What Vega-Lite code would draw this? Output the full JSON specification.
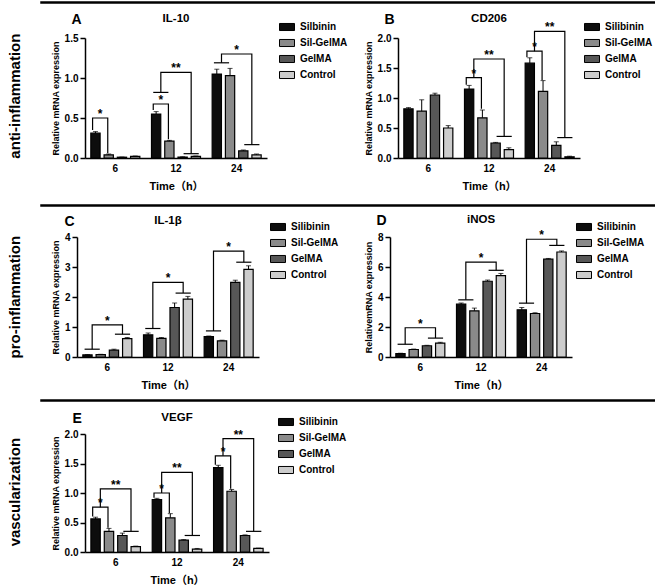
{
  "$schema": "https://vega.github.io/schema/vega-lite/v6.json",
  "padding": {"left": 8, "top": 1, "right": 0, "bottom": 0},
  "config": {
    "font": "Liberation Sans, Noto Sans CJK SC, sans-serif",
    "view": {"stroke": null},
    "axis": {"labelFontWeight": "bold", "titleFontWeight": "bold", "labelColor": "#000", "titleColor": "#000", "domainColor": "#000", "tickColor": "#000", "grid": false, "labelFontSize": 10, "titleFontSize": 9, "labelOverlap": false},
    "axisX": {"ticks": false, "labelAngle": 0, "labelPadding": 5, "titleFontSize": 11, "titlePadding": 7, "domainWidth": 1.5},
    "axisY": {"tickSize": 5, "domainWidth": 1.5, "tickWidth": 1.5, "titlePadding": 4, "labelPadding": 2},
    "legend": {"labelFontWeight": "bold", "labelFontSize": 10, "labelColor": "#000", "symbolType": "M-1,-0.47H1V0.47H-1Z", "symbolSize": 225, "symbolStrokeColor": "#000", "symbolStrokeWidth": 1, "rowPadding": 2, "labelOffset": 5},
    "title": {"fontWeight": "bold", "fontSize": 11.5, "color": "#000"}
  },
  "spacing": 13,
  "resolve": {"scale": {"fill": "independent"}, "legend": {"fill": "independent"}},
  "datasets": {
    "barsA": [
      {"time": "6", "group": "Silibinin", "value": 0.31, "hi": 0.33},
      {"time": "6", "group": "Sil-GelMA", "value": 0.04, "hi": 0.05},
      {"time": "6", "group": "GelMA", "value": 0.01, "hi": 0.012},
      {"time": "6", "group": "Control", "value": 0.02, "hi": 0.025},
      {"time": "12", "group": "Silibinin", "value": 0.55, "hi": 0.58},
      {"time": "12", "group": "Sil-GelMA", "value": 0.21, "hi": 0.22},
      {"time": "12", "group": "GelMA", "value": 0.01, "hi": 0.015},
      {"time": "12", "group": "Control", "value": 0.02, "hi": 0.025},
      {"time": "24", "group": "Silibinin", "value": 1.05, "hi": 1.11},
      {"time": "24", "group": "Sil-GelMA", "value": 1.03, "hi": 1.12},
      {"time": "24", "group": "GelMA", "value": 0.09, "hi": 0.1},
      {"time": "24", "group": "Control", "value": 0.04, "hi": 0.05}
    ],
    "brA": [
      {"id": "b1", "k": 1, "time": "6", "at": "Silibinin", "y": 0.35},
      {"id": "b1", "k": 2, "time": "6", "at": "Silibinin", "y": 0.5},
      {"id": "b1", "k": 3, "time": "6", "at": "Sil-GelMA", "y": 0.5},
      {"id": "b1", "k": 4, "time": "6", "at": "Sil-GelMA", "y": 0.06},
      {"id": "b2", "k": 1, "time": "12", "at": "Silibinin", "y": 0.6},
      {"id": "b2", "k": 2, "time": "12", "at": "Silibinin", "y": 0.675},
      {"id": "b2", "k": 3, "time": "12", "at": "Sil-GelMA", "y": 0.675},
      {"id": "b2", "k": 4, "time": "12", "at": "Sil-GelMA", "y": 0.235},
      {"id": "p1", "k": 1, "time": "12", "at": "Silibinin", "y": 0.82},
      {"id": "p1", "k": 2, "time": "12", "at": "Sil-GelMA", "y": 0.82},
      {"id": "b3", "k": 1, "time": "12", "at": "m1", "y": 0.82},
      {"id": "b3", "k": 2, "time": "12", "at": "m1", "y": 1.07},
      {"id": "b3", "k": 3, "time": "12", "at": "m3", "y": 1.07},
      {"id": "b3", "k": 4, "time": "12", "at": "m3", "y": 0.054},
      {"id": "p2", "k": 1, "time": "12", "at": "GelMA", "y": 0.054},
      {"id": "p2", "k": 2, "time": "12", "at": "Control", "y": 0.054},
      {"id": "p3", "k": 1, "time": "24", "at": "Silibinin", "y": 1.19},
      {"id": "p3", "k": 2, "time": "24", "at": "Sil-GelMA", "y": 1.19},
      {"id": "b4", "k": 1, "time": "24", "at": "m1", "y": 1.19},
      {"id": "b4", "k": 2, "time": "24", "at": "m1", "y": 1.3},
      {"id": "b4", "k": 3, "time": "24", "at": "m3", "y": 1.3},
      {"id": "b4", "k": 4, "time": "24", "at": "m3", "y": 0.167},
      {"id": "p4", "k": 1, "time": "24", "at": "GelMA", "y": 0.167},
      {"id": "p4", "k": 2, "time": "24", "at": "Control", "y": 0.167}
    ],
    "stA": [
      {"time": "6", "at": "m1", "y": 0.5, "s": "*"},
      {"time": "12", "at": "m1", "y": 0.675, "s": "*"},
      {"time": "12", "at": "m2", "y": 1.07, "s": "**"},
      {"time": "24", "at": "m2", "y": 1.3, "s": "*"}
    ],
    "barsB": [
      {"time": "6", "group": "Silibinin", "value": 0.82, "hi": 0.84},
      {"time": "6", "group": "Sil-GelMA", "value": 0.78, "hi": 0.97},
      {"time": "6", "group": "GelMA", "value": 1.05, "hi": 1.08},
      {"time": "6", "group": "Control", "value": 0.5, "hi": 0.54},
      {"time": "12", "group": "Silibinin", "value": 1.15, "hi": 1.21},
      {"time": "12", "group": "Sil-GelMA", "value": 0.67, "hi": 0.8},
      {"time": "12", "group": "GelMA", "value": 0.25, "hi": 0.26},
      {"time": "12", "group": "Control", "value": 0.14, "hi": 0.17},
      {"time": "24", "group": "Silibinin", "value": 1.58, "hi": 1.67},
      {"time": "24", "group": "Sil-GelMA", "value": 1.11, "hi": 1.29},
      {"time": "24", "group": "GelMA", "value": 0.21, "hi": 0.27},
      {"time": "24", "group": "Control", "value": 0.02, "hi": 0.03}
    ],
    "brB": [
      {"id": "b1", "k": 1, "time": "12", "at": "Silibinin", "y": 1.22},
      {"id": "b1", "k": 2, "time": "12", "at": "Silibinin", "y": 1.34},
      {"id": "b1", "k": 3, "time": "12", "at": "Sil-GelMA", "y": 1.34},
      {"id": "b1", "k": 4, "time": "12", "at": "Sil-GelMA", "y": 0.82},
      {"id": "b2", "k": 1, "time": "12", "at": "m1", "y": 1.34},
      {"id": "b2", "k": 2, "time": "12", "at": "m1", "y": 1.65},
      {"id": "b2", "k": 3, "time": "12", "at": "m3", "y": 1.65},
      {"id": "b2", "k": 4, "time": "12", "at": "m3", "y": 0.36},
      {"id": "p1", "k": 1, "time": "12", "at": "GelMA", "y": 0.36},
      {"id": "p1", "k": 2, "time": "12", "at": "Control", "y": 0.36},
      {"id": "b3", "k": 1, "time": "24", "at": "Silibinin", "y": 1.68},
      {"id": "b3", "k": 2, "time": "24", "at": "Silibinin", "y": 1.78},
      {"id": "b3", "k": 3, "time": "24", "at": "Sil-GelMA", "y": 1.78},
      {"id": "b3", "k": 4, "time": "24", "at": "Sil-GelMA", "y": 1.3},
      {"id": "b4", "k": 1, "time": "24", "at": "m1", "y": 1.78},
      {"id": "b4", "k": 2, "time": "24", "at": "m1", "y": 2.11},
      {"id": "b4", "k": 3, "time": "24", "at": "m3", "y": 2.11},
      {"id": "b4", "k": 4, "time": "24", "at": "m3", "y": 0.34},
      {"id": "p2", "k": 1, "time": "24", "at": "GelMA", "y": 0.34},
      {"id": "p2", "k": 2, "time": "24", "at": "Control", "y": 0.34}
    ],
    "stB": [
      {"time": "12", "at": "m1", "y": 1.34, "s": "*"},
      {"time": "12", "at": "m2", "y": 1.65, "s": "**"},
      {"time": "24", "at": "m1", "y": 1.78, "s": "*"},
      {"time": "24", "at": "m2", "y": 2.11, "s": "**"}
    ],
    "barsC": [
      {"time": "6", "group": "Silibinin", "value": 0.07, "hi": 0.08},
      {"time": "6", "group": "Sil-GelMA", "value": 0.08, "hi": 0.09},
      {"time": "6", "group": "GelMA", "value": 0.23, "hi": 0.26},
      {"time": "6", "group": "Control", "value": 0.61, "hi": 0.65},
      {"time": "12", "group": "Silibinin", "value": 0.74, "hi": 0.8},
      {"time": "12", "group": "Sil-GelMA", "value": 0.62, "hi": 0.65},
      {"time": "12", "group": "GelMA", "value": 1.65, "hi": 1.8},
      {"time": "12", "group": "Control", "value": 1.93, "hi": 2.02},
      {"time": "24", "group": "Silibinin", "value": 0.68, "hi": 0.7},
      {"time": "24", "group": "Sil-GelMA", "value": 0.54, "hi": 0.56},
      {"time": "24", "group": "GelMA", "value": 2.49, "hi": 2.56},
      {"time": "24", "group": "Control", "value": 2.92, "hi": 3.04}
    ],
    "brC": [
      {"id": "l6", "k": 1, "time": "6", "at": "Silibinin", "y": 0.26},
      {"id": "l6", "k": 2, "time": "6", "at": "Sil-GelMA", "y": 0.26},
      {"id": "h6", "k": 1, "time": "6", "at": "GelMA", "y": 0.76},
      {"id": "h6", "k": 2, "time": "6", "at": "Control", "y": 0.76},
      {"id": "b6", "k": 1, "time": "6", "at": "m1", "y": 0.26},
      {"id": "b6", "k": 2, "time": "6", "at": "m1", "y": 1.07},
      {"id": "b6", "k": 3, "time": "6", "at": "m3", "y": 1.07},
      {"id": "b6", "k": 4, "time": "6", "at": "m3", "y": 0.76},
      {"id": "l12", "k": 1, "time": "12", "at": "Silibinin", "y": 0.95},
      {"id": "l12", "k": 2, "time": "12", "at": "Sil-GelMA", "y": 0.95},
      {"id": "h12", "k": 1, "time": "12", "at": "GelMA", "y": 2.13},
      {"id": "h12", "k": 2, "time": "12", "at": "Control", "y": 2.13},
      {"id": "b12", "k": 1, "time": "12", "at": "m1", "y": 0.95},
      {"id": "b12", "k": 2, "time": "12", "at": "m1", "y": 2.49},
      {"id": "b12", "k": 3, "time": "12", "at": "m3", "y": 2.49},
      {"id": "b12", "k": 4, "time": "12", "at": "m3", "y": 2.13},
      {"id": "l24", "k": 1, "time": "24", "at": "Silibinin", "y": 0.87},
      {"id": "l24", "k": 2, "time": "24", "at": "Sil-GelMA", "y": 0.87},
      {"id": "h24", "k": 1, "time": "24", "at": "GelMA", "y": 3.16},
      {"id": "h24", "k": 2, "time": "24", "at": "Control", "y": 3.16},
      {"id": "b24", "k": 1, "time": "24", "at": "m1", "y": 0.87},
      {"id": "b24", "k": 2, "time": "24", "at": "m1", "y": 3.53},
      {"id": "b24", "k": 3, "time": "24", "at": "m3", "y": 3.53},
      {"id": "b24", "k": 4, "time": "24", "at": "m3", "y": 3.16}
    ],
    "stC": [
      {"time": "6", "at": "m2", "y": 1.07, "s": "*"},
      {"time": "12", "at": "m2", "y": 2.49, "s": "*"},
      {"time": "24", "at": "m2", "y": 3.53, "s": "*"}
    ],
    "barsD": [
      {"time": "6", "group": "Silibinin", "value": 0.22, "hi": 0.25},
      {"time": "6", "group": "Sil-GelMA", "value": 0.5, "hi": 0.53},
      {"time": "6", "group": "GelMA", "value": 0.75, "hi": 0.78},
      {"time": "6", "group": "Control", "value": 0.93, "hi": 0.98},
      {"time": "12", "group": "Silibinin", "value": 3.52, "hi": 3.6},
      {"time": "12", "group": "Sil-GelMA", "value": 3.08, "hi": 3.26},
      {"time": "12", "group": "GelMA", "value": 5.05, "hi": 5.13},
      {"time": "12", "group": "Control", "value": 5.42, "hi": 5.57},
      {"time": "24", "group": "Silibinin", "value": 3.15, "hi": 3.3},
      {"time": "24", "group": "Sil-GelMA", "value": 2.9, "hi": 2.95},
      {"time": "24", "group": "GelMA", "value": 6.52, "hi": 6.57},
      {"time": "24", "group": "Control", "value": 7.0, "hi": 7.07}
    ],
    "brD": [
      {"id": "l6", "k": 1, "time": "6", "at": "Silibinin", "y": 0.85},
      {"id": "l6", "k": 2, "time": "6", "at": "Sil-GelMA", "y": 0.85},
      {"id": "h6", "k": 1, "time": "6", "at": "GelMA", "y": 1.26},
      {"id": "h6", "k": 2, "time": "6", "at": "Control", "y": 1.26},
      {"id": "b6", "k": 1, "time": "6", "at": "m1", "y": 0.85},
      {"id": "b6", "k": 2, "time": "6", "at": "m1", "y": 1.95},
      {"id": "b6", "k": 3, "time": "6", "at": "m3", "y": 1.95},
      {"id": "b6", "k": 4, "time": "6", "at": "m3", "y": 1.26},
      {"id": "l12", "k": 1, "time": "12", "at": "Silibinin", "y": 3.81},
      {"id": "l12", "k": 2, "time": "12", "at": "Sil-GelMA", "y": 3.81},
      {"id": "h12", "k": 1, "time": "12", "at": "GelMA", "y": 5.78},
      {"id": "h12", "k": 2, "time": "12", "at": "Control", "y": 5.78},
      {"id": "b12", "k": 1, "time": "12", "at": "m1", "y": 3.81},
      {"id": "b12", "k": 2, "time": "12", "at": "m1", "y": 6.32},
      {"id": "b12", "k": 3, "time": "12", "at": "m3", "y": 6.32},
      {"id": "b12", "k": 4, "time": "12", "at": "m3", "y": 5.78},
      {"id": "l24", "k": 1, "time": "24", "at": "Silibinin", "y": 3.59},
      {"id": "l24", "k": 2, "time": "24", "at": "Sil-GelMA", "y": 3.59},
      {"id": "h24", "k": 1, "time": "24", "at": "GelMA", "y": 7.44},
      {"id": "h24", "k": 2, "time": "24", "at": "Control", "y": 7.44},
      {"id": "b24", "k": 1, "time": "24", "at": "m1", "y": 3.59},
      {"id": "b24", "k": 2, "time": "24", "at": "m1", "y": 7.85},
      {"id": "b24", "k": 3, "time": "24", "at": "m3", "y": 7.85},
      {"id": "b24", "k": 4, "time": "24", "at": "m3", "y": 7.44}
    ],
    "stD": [
      {"time": "6", "at": "m2", "y": 1.95, "s": "*"},
      {"time": "12", "at": "m2", "y": 6.32, "s": "*"},
      {"time": "24", "at": "m2", "y": 7.85, "s": "*"}
    ],
    "barsE": [
      {"time": "6", "group": "Silibinin", "value": 0.56, "hi": 0.59},
      {"time": "6", "group": "Sil-GelMA", "value": 0.35, "hi": 0.4},
      {"time": "6", "group": "GelMA", "value": 0.28, "hi": 0.32},
      {"time": "6", "group": "Control", "value": 0.09, "hi": 0.1},
      {"time": "12", "group": "Silibinin", "value": 0.89, "hi": 0.91},
      {"time": "12", "group": "Sil-GelMA", "value": 0.58, "hi": 0.65},
      {"time": "12", "group": "GelMA", "value": 0.2, "hi": 0.21},
      {"time": "12", "group": "Control", "value": 0.05, "hi": 0.06},
      {"time": "24", "group": "Silibinin", "value": 1.43, "hi": 1.47},
      {"time": "24", "group": "Sil-GelMA", "value": 1.03, "hi": 1.06},
      {"time": "24", "group": "GelMA", "value": 0.28, "hi": 0.29},
      {"time": "24", "group": "Control", "value": 0.06, "hi": 0.065}
    ],
    "brE": [
      {"id": "a6", "k": 1, "time": "6", "at": "Silibinin", "y": 0.6},
      {"id": "a6", "k": 2, "time": "6", "at": "Silibinin", "y": 0.76},
      {"id": "a6", "k": 3, "time": "6", "at": "Sil-GelMA", "y": 0.76},
      {"id": "a6", "k": 4, "time": "6", "at": "Sil-GelMA", "y": 0.41},
      {"id": "b6", "k": 1, "time": "6", "at": "m1", "y": 0.76},
      {"id": "b6", "k": 2, "time": "6", "at": "m1", "y": 1.07},
      {"id": "b6", "k": 3, "time": "6", "at": "m3", "y": 1.07},
      {"id": "b6", "k": 4, "time": "6", "at": "m3", "y": 0.35},
      {"id": "p6", "k": 1, "time": "6", "at": "GelMA", "y": 0.35},
      {"id": "p6", "k": 2, "time": "6", "at": "Control", "y": 0.35},
      {"id": "a12", "k": 1, "time": "12", "at": "Silibinin", "y": 0.92},
      {"id": "a12", "k": 2, "time": "12", "at": "Silibinin", "y": 1.0},
      {"id": "a12", "k": 3, "time": "12", "at": "Sil-GelMA", "y": 1.0},
      {"id": "a12", "k": 4, "time": "12", "at": "Sil-GelMA", "y": 0.66},
      {"id": "b12", "k": 1, "time": "12", "at": "m1", "y": 1.0},
      {"id": "b12", "k": 2, "time": "12", "at": "m1", "y": 1.35},
      {"id": "b12", "k": 3, "time": "12", "at": "m3", "y": 1.35},
      {"id": "b12", "k": 4, "time": "12", "at": "m3", "y": 0.28},
      {"id": "p12", "k": 1, "time": "12", "at": "GelMA", "y": 0.28},
      {"id": "p12", "k": 2, "time": "12", "at": "Control", "y": 0.28},
      {"id": "a24", "k": 1, "time": "24", "at": "Silibinin", "y": 1.48},
      {"id": "a24", "k": 2, "time": "24", "at": "Silibinin", "y": 1.63},
      {"id": "a24", "k": 3, "time": "24", "at": "Sil-GelMA", "y": 1.63},
      {"id": "a24", "k": 4, "time": "24", "at": "Sil-GelMA", "y": 1.07},
      {"id": "b24", "k": 1, "time": "24", "at": "m1", "y": 1.63},
      {"id": "b24", "k": 2, "time": "24", "at": "m1", "y": 1.92},
      {"id": "b24", "k": 3, "time": "24", "at": "m3", "y": 1.92},
      {"id": "b24", "k": 4, "time": "24", "at": "m3", "y": 0.35},
      {"id": "p24", "k": 1, "time": "24", "at": "GelMA", "y": 0.35},
      {"id": "p24", "k": 2, "time": "24", "at": "Control", "y": 0.35}
    ],
    "stE": [
      {"time": "6", "at": "m1", "y": 0.76, "s": "*"},
      {"time": "6", "at": "m2", "y": 1.07, "s": "**"},
      {"time": "12", "at": "m1", "y": 1.0, "s": "*"},
      {"time": "12", "at": "m2", "y": 1.35, "s": "**"},
      {"time": "24", "at": "m1", "y": 1.63, "s": "*"},
      {"time": "24", "at": "m2", "y": 1.92, "s": "**"}
    ]
  },
  "vconcat": [
    {
      "title": {"text": "anti-inflammation", "orient": "left", "anchor": "middle", "fontSize": 15, "offset": 17},
      "spacing": 8,
      "resolve": {"scale": {"fill": "independent"}, "legend": {"fill": "independent"}},
      "vconcat": [
        {"width": 615, "height": 1, "data": {"values": []}, "mark": {"type": "point"}, "encoding": {}, "view": {"stroke": "#000", "strokeWidth": 1.5}},
        {
          "spacing": 9,
          "resolve": {"scale": {"fill": "independent"}, "legend": {"fill": "independent"}},
          "hconcat": [
            {"width": 1, "height": 1, "data": {"values": []}, "mark": {"type": "point"}, "encoding": {}},
            {
              "bounds": "flush",
              "spacing": 131,
              "resolve": {"scale": {"fill": "independent"}, "legend": {"fill": "independent"}},
              "hconcat": [
                {
                  "width": 182, "height": 120,
                  "title": {"text": "IL-10", "frame": "group", "anchor": "middle", "offset": -12},
                  "resolve": {"scale": {"xOffset": "independent"}, "axis": {"x": "independent"}},
                  "layer": [
                    {"data": {"name": "barsA"}, "mark": {"type": "bar", "stroke": "#000", "strokeWidth": 1.2},
                     "encoding": {
                       "x": {"field": "time", "type": "nominal", "sort": ["6", "12", "24"], "scale": {"paddingInner": 0, "paddingOuter": 0}, "axis": {"title": "Time（h）"}},
                       "xOffset": {"field": "group", "type": "nominal", "scale": {"domain": ["Silibinin", "Sil-GelMA", "GelMA", "Control"], "paddingInner": 0.3, "paddingOuter": 0.44}},
                       "y": {"field": "value", "type": "quantitative", "scale": {"domain": [0, 1.5]}, "axis": {"title": "Relative mRNA expression", "values": [0, 0.5, 1, 1.5], "format": ".1f", "labelOverlap": false}},
                       "fill": {"field": "group", "type": "nominal", "scale": {"domain": ["Silibinin", "Sil-GelMA", "GelMA", "Control"], "range": ["#0d0d0d", "#8a8a8a", "#575757", "#cccccc"]}, "legend": {"title": null, "orient": "none", "legendX": 194, "legendY": -19, "labelExpr": "datum.label == 'Silibinin' ? 'Silbinin' : datum.label"}}
                     }},
                    {"data": {"name": "barsA"}, "mark": {"type": "rule", "color": "#000", "strokeWidth": 1},
                     "encoding": {
                       "x": {"field": "time", "type": "nominal", "sort": ["6", "12", "24"], "scale": {"paddingInner": 0, "paddingOuter": 0}, "axis": null},
                       "xOffset": {"field": "group", "type": "nominal", "scale": {"domain": ["Silibinin", "Sil-GelMA", "GelMA", "Control"], "paddingInner": 0.3, "paddingOuter": 0.44}},
                       "y": {"field": "value", "type": "quantitative", "scale": {"domain": [0, 1.5]}, "axis": {"title": "Relative mRNA expression", "values": [0, 0.5, 1, 1.5], "format": ".1f", "labelOverlap": false}},
                       "y2": {"field": "hi"}
                     }},
                    {"data": {"name": "barsA"}, "mark": {"type": "tick", "color": "#000", "thickness": 1, "size": 5},
                     "encoding": {
                       "x": {"field": "time", "type": "nominal", "sort": ["6", "12", "24"], "scale": {"paddingInner": 0, "paddingOuter": 0}, "axis": null},
                       "xOffset": {"field": "group", "type": "nominal", "scale": {"domain": ["Silibinin", "Sil-GelMA", "GelMA", "Control"], "paddingInner": 0.3, "paddingOuter": 0.44}},
                       "y": {"field": "hi", "type": "quantitative", "scale": {"domain": [0, 1.5]}, "axis": {"title": "Relative mRNA expression", "values": [0, 0.5, 1, 1.5], "format": ".1f", "labelOverlap": false}}
                     }},
                    {"data": {"name": "brA"}, "mark": {"type": "line", "color": "#000", "strokeWidth": 1.2},
                     "encoding": {
                       "x": {"field": "time", "type": "nominal", "sort": ["6", "12", "24"], "scale": {"paddingInner": 0, "paddingOuter": 0}, "axis": {"orient": "top", "title": "A", "labels": false, "ticks": false, "domain": false, "titleAnchor": "start", "titleAlign": "left", "titleX": -14, "titleY": -15, "titleBaseline": "alphabetic", "titleFontSize": 14}},
                       "xOffset": {"field": "at", "type": "nominal", "scale": {"type": "point", "domain": ["Silibinin", "m1", "Sil-GelMA", "m2", "GelMA", "m3", "Control"], "padding": 1.575}},
                       "y": {"field": "y", "type": "quantitative", "scale": {"domain": [0, 1.5]}, "axis": {"title": "Relative mRNA expression", "values": [0, 0.5, 1, 1.5], "format": ".1f", "labelOverlap": false}},
                       "detail": {"field": "id"},
                       "order": {"field": "k"}
                     }},
                    {"data": {"name": "stA"}, "mark": {"type": "text", "fontSize": 12, "fontWeight": "bold", "baseline": "alphabetic", "color": "#000"},
                     "encoding": {
                       "x": {"field": "time", "type": "nominal", "sort": ["6", "12", "24"], "scale": {"paddingInner": 0, "paddingOuter": 0}, "axis": null},
                       "xOffset": {"field": "at", "type": "nominal", "scale": {"type": "point", "domain": ["Silibinin", "m1", "Sil-GelMA", "m2", "GelMA", "m3", "Control"], "padding": 1.575}},
                       "y": {"field": "y", "type": "quantitative", "scale": {"domain": [0, 1.5]}, "axis": {"title": "Relative mRNA expression", "values": [0, 0.5, 1, 1.5], "format": ".1f", "labelOverlap": false}},
                       "text": {"field": "s"}
                     }}
                  ]
                },
                {
                  "width": 182, "height": 120,
                  "title": {"text": "CD206", "frame": "group", "anchor": "middle", "offset": -12},
                  "resolve": {"scale": {"xOffset": "independent"}, "axis": {"x": "independent"}},
                  "layer": [
                    {"data": {"name": "barsB"}, "mark": {"type": "bar", "stroke": "#000", "strokeWidth": 1.2},
                     "encoding": {
                       "x": {"field": "time", "type": "nominal", "sort": ["6", "12", "24"], "scale": {"paddingInner": 0, "paddingOuter": 0}, "axis": {"title": "Time（h）"}},
                       "xOffset": {"field": "group", "type": "nominal", "scale": {"domain": ["Silibinin", "Sil-GelMA", "GelMA", "Control"], "paddingInner": 0.3, "paddingOuter": 0.44}},
                       "y": {"field": "value", "type": "quantitative", "scale": {"domain": [0, 2]}, "axis": {"title": "Relative mRNA expression", "values": [0, 0.5, 1, 1.5, 2], "format": ".1f", "labelOverlap": false}},
                       "fill": {"field": "group", "type": "nominal", "scale": {"domain": ["Silibinin", "Sil-GelMA", "GelMA", "Control"], "range": ["#0d0d0d", "#8a8a8a", "#575757", "#cccccc"]}, "legend": {"title": null, "orient": "none", "legendX": 186, "legendY": -19}}
                     }},
                    {"data": {"name": "barsB"}, "mark": {"type": "rule", "color": "#000", "strokeWidth": 1},
                     "encoding": {
                       "x": {"field": "time", "type": "nominal", "sort": ["6", "12", "24"], "scale": {"paddingInner": 0, "paddingOuter": 0}, "axis": null},
                       "xOffset": {"field": "group", "type": "nominal", "scale": {"domain": ["Silibinin", "Sil-GelMA", "GelMA", "Control"], "paddingInner": 0.3, "paddingOuter": 0.44}},
                       "y": {"field": "value", "type": "quantitative", "scale": {"domain": [0, 2]}, "axis": {"title": "Relative mRNA expression", "values": [0, 0.5, 1, 1.5, 2], "format": ".1f", "labelOverlap": false}},
                       "y2": {"field": "hi"}
                     }},
                    {"data": {"name": "barsB"}, "mark": {"type": "tick", "color": "#000", "thickness": 1, "size": 5},
                     "encoding": {
                       "x": {"field": "time", "type": "nominal", "sort": ["6", "12", "24"], "scale": {"paddingInner": 0, "paddingOuter": 0}, "axis": null},
                       "xOffset": {"field": "group", "type": "nominal", "scale": {"domain": ["Silibinin", "Sil-GelMA", "GelMA", "Control"], "paddingInner": 0.3, "paddingOuter": 0.44}},
                       "y": {"field": "hi", "type": "quantitative", "scale": {"domain": [0, 2]}, "axis": {"title": "Relative mRNA expression", "values": [0, 0.5, 1, 1.5, 2], "format": ".1f", "labelOverlap": false}}
                     }},
                    {"data": {"name": "brB"}, "mark": {"type": "line", "color": "#000", "strokeWidth": 1.2},
                     "encoding": {
                       "x": {"field": "time", "type": "nominal", "sort": ["6", "12", "24"], "scale": {"paddingInner": 0, "paddingOuter": 0}, "axis": {"orient": "top", "title": "B", "labels": false, "ticks": false, "domain": false, "titleAnchor": "start", "titleAlign": "left", "titleX": -14, "titleY": -15, "titleBaseline": "alphabetic", "titleFontSize": 14}},
                       "xOffset": {"field": "at", "type": "nominal", "scale": {"type": "point", "domain": ["Silibinin", "m1", "Sil-GelMA", "m2", "GelMA", "m3", "Control"], "padding": 1.575}},
                       "y": {"field": "y", "type": "quantitative", "scale": {"domain": [0, 2]}, "axis": {"title": "Relative mRNA expression", "values": [0, 0.5, 1, 1.5, 2], "format": ".1f", "labelOverlap": false}},
                       "detail": {"field": "id"},
                       "order": {"field": "k"}
                     }},
                    {"data": {"name": "stB"}, "mark": {"type": "text", "fontSize": 12, "fontWeight": "bold", "baseline": "alphabetic", "color": "#000"},
                     "encoding": {
                       "x": {"field": "time", "type": "nominal", "sort": ["6", "12", "24"], "scale": {"paddingInner": 0, "paddingOuter": 0}, "axis": null},
                       "xOffset": {"field": "at", "type": "nominal", "scale": {"type": "point", "domain": ["Silibinin", "m1", "Sil-GelMA", "m2", "GelMA", "m3", "Control"], "padding": 1.575}},
                       "y": {"field": "y", "type": "quantitative", "scale": {"domain": [0, 2]}, "axis": {"title": "Relative mRNA expression", "values": [0, 0.5, 1, 1.5, 2], "format": ".1f", "labelOverlap": false}},
                       "text": {"field": "s"}
                     }}
                  ]
                }
              ]
            }
          ]
        }
      ]
    },
    {
      "spacing": 9,
      "resolve": {"scale": {"fill": "independent"}, "legend": {"fill": "independent"}},
      "vconcat": [
        {
          "title": {"text": "pro-inflammation", "orient": "left", "anchor": "middle", "fontSize": 15, "offset": 17},
          "spacing": 6,
          "resolve": {"scale": {"fill": "independent"}, "legend": {"fill": "independent"}},
          "vconcat": [
            {"width": 615, "height": 1, "data": {"values": []}, "mark": {"type": "point"}, "encoding": {}, "view": {"stroke": "#000", "strokeWidth": 1.5}},
            {
              "spacing": 9,
              "resolve": {"scale": {"fill": "independent"}, "legend": {"fill": "independent"}},
              "hconcat": [
                {"width": 1, "height": 1, "data": {"values": []}, "mark": {"type": "point"}, "encoding": {}},
                {
                  "bounds": "flush",
                  "spacing": 131,
                  "resolve": {"scale": {"fill": "independent"}, "legend": {"fill": "independent"}},
                  "hconcat": [
                    {
                      "width": 182, "height": 120,
                      "title": {"text": "IL-1β", "frame": "group", "anchor": "middle", "offset": -12},
                      "resolve": {"scale": {"xOffset": "independent"}, "axis": {"x": "independent"}},
                      "layer": [
                        {"data": {"name": "barsC"}, "mark": {"type": "bar", "stroke": "#000", "strokeWidth": 1.2},
                         "encoding": {
                           "x": {"field": "time", "type": "nominal", "sort": ["6", "12", "24"], "scale": {"paddingInner": 0, "paddingOuter": 0}, "axis": {"title": "Time（h）"}},
                           "xOffset": {"field": "group", "type": "nominal", "scale": {"domain": ["Silibinin", "Sil-GelMA", "GelMA", "Control"], "paddingInner": 0.3, "paddingOuter": 0.44}},
                           "y": {"field": "value", "type": "quantitative", "scale": {"domain": [0, 4]}, "axis": {"title": "Relative mRNA expression", "values": [0, 1, 2, 3, 4], "format": "d", "labelOverlap": false}},
                           "fill": {"field": "group", "type": "nominal", "scale": {"domain": ["Silibinin", "Sil-GelMA", "GelMA", "Control"], "range": ["#0d0d0d", "#8a8a8a", "#575757", "#cccccc"]}, "legend": {"title": null, "orient": "none", "legendX": 193, "legendY": -18}}
                         }},
                        {"data": {"name": "barsC"}, "mark": {"type": "rule", "color": "#000", "strokeWidth": 1},
                         "encoding": {
                           "x": {"field": "time", "type": "nominal", "sort": ["6", "12", "24"], "scale": {"paddingInner": 0, "paddingOuter": 0}, "axis": null},
                           "xOffset": {"field": "group", "type": "nominal", "scale": {"domain": ["Silibinin", "Sil-GelMA", "GelMA", "Control"], "paddingInner": 0.3, "paddingOuter": 0.44}},
                           "y": {"field": "value", "type": "quantitative", "scale": {"domain": [0, 4]}, "axis": {"title": "Relative mRNA expression", "values": [0, 1, 2, 3, 4], "format": "d", "labelOverlap": false}},
                           "y2": {"field": "hi"}
                         }},
                        {"data": {"name": "barsC"}, "mark": {"type": "tick", "color": "#000", "thickness": 1, "size": 5},
                         "encoding": {
                           "x": {"field": "time", "type": "nominal", "sort": ["6", "12", "24"], "scale": {"paddingInner": 0, "paddingOuter": 0}, "axis": null},
                           "xOffset": {"field": "group", "type": "nominal", "scale": {"domain": ["Silibinin", "Sil-GelMA", "GelMA", "Control"], "paddingInner": 0.3, "paddingOuter": 0.44}},
                           "y": {"field": "hi", "type": "quantitative", "scale": {"domain": [0, 4]}, "axis": {"title": "Relative mRNA expression", "values": [0, 1, 2, 3, 4], "format": "d", "labelOverlap": false}}
                         }},
                        {"data": {"name": "brC"}, "mark": {"type": "line", "color": "#000", "strokeWidth": 1.2},
                         "encoding": {
                           "x": {"field": "time", "type": "nominal", "sort": ["6", "12", "24"], "scale": {"paddingInner": 0, "paddingOuter": 0}, "axis": {"orient": "top", "title": "C", "labels": false, "ticks": false, "domain": false, "titleAnchor": "start", "titleAlign": "left", "titleX": -13, "titleY": -12, "titleBaseline": "alphabetic", "titleFontSize": 14}},
                           "xOffset": {"field": "at", "type": "nominal", "scale": {"type": "point", "domain": ["Silibinin", "m1", "Sil-GelMA", "m2", "GelMA", "m3", "Control"], "padding": 1.575}},
                           "y": {"field": "y", "type": "quantitative", "scale": {"domain": [0, 4]}, "axis": {"title": "Relative mRNA expression", "values": [0, 1, 2, 3, 4], "format": "d", "labelOverlap": false}},
                           "detail": {"field": "id"},
                           "order": {"field": "k"}
                         }},
                        {"data": {"name": "stC"}, "mark": {"type": "text", "fontSize": 12, "fontWeight": "bold", "baseline": "alphabetic", "color": "#000"},
                         "encoding": {
                           "x": {"field": "time", "type": "nominal", "sort": ["6", "12", "24"], "scale": {"paddingInner": 0, "paddingOuter": 0}, "axis": null},
                           "xOffset": {"field": "at", "type": "nominal", "scale": {"type": "point", "domain": ["Silibinin", "m1", "Sil-GelMA", "m2", "GelMA", "m3", "Control"], "padding": 1.575}},
                           "y": {"field": "y", "type": "quantitative", "scale": {"domain": [0, 4]}, "axis": {"title": "Relative mRNA expression", "values": [0, 1, 2, 3, 4], "format": "d", "labelOverlap": false}},
                           "text": {"field": "s"}
                         }}
                      ]
                    },
                    {
                      "width": 182, "height": 120,
                      "title": {"text": "iNOS", "frame": "group", "anchor": "middle", "offset": -12},
                      "resolve": {"scale": {"xOffset": "independent"}, "axis": {"x": "independent"}},
                      "layer": [
                        {"data": {"name": "barsD"}, "mark": {"type": "bar", "stroke": "#000", "strokeWidth": 1.2},
                         "encoding": {
                           "x": {"field": "time", "type": "nominal", "sort": ["6", "12", "24"], "scale": {"paddingInner": 0, "paddingOuter": 0}, "axis": {"title": "Time（h）"}},
                           "xOffset": {"field": "group", "type": "nominal", "scale": {"domain": ["Silibinin", "Sil-GelMA", "GelMA", "Control"], "paddingInner": 0.3, "paddingOuter": 0.44}},
                           "y": {"field": "value", "type": "quantitative", "scale": {"domain": [0, 8]}, "axis": {"title": "RelativemRNA expression", "values": [0, 2, 4, 6, 8], "format": "d", "labelOverlap": false}},
                           "fill": {"field": "group", "type": "nominal", "scale": {"domain": ["Silibinin", "Sil-GelMA", "GelMA", "Control"], "range": ["#0d0d0d", "#8a8a8a", "#575757", "#cccccc"]}, "legend": {"title": null, "orient": "none", "legendX": 186, "legendY": -18}}
                         }},
                        {"data": {"name": "barsD"}, "mark": {"type": "rule", "color": "#000", "strokeWidth": 1},
                         "encoding": {
                           "x": {"field": "time", "type": "nominal", "sort": ["6", "12", "24"], "scale": {"paddingInner": 0, "paddingOuter": 0}, "axis": null},
                           "xOffset": {"field": "group", "type": "nominal", "scale": {"domain": ["Silibinin", "Sil-GelMA", "GelMA", "Control"], "paddingInner": 0.3, "paddingOuter": 0.44}},
                           "y": {"field": "value", "type": "quantitative", "scale": {"domain": [0, 8]}, "axis": {"title": "RelativemRNA expression", "values": [0, 2, 4, 6, 8], "format": "d", "labelOverlap": false}},
                           "y2": {"field": "hi"}
                         }},
                        {"data": {"name": "barsD"}, "mark": {"type": "tick", "color": "#000", "thickness": 1, "size": 5},
                         "encoding": {
                           "x": {"field": "time", "type": "nominal", "sort": ["6", "12", "24"], "scale": {"paddingInner": 0, "paddingOuter": 0}, "axis": null},
                           "xOffset": {"field": "group", "type": "nominal", "scale": {"domain": ["Silibinin", "Sil-GelMA", "GelMA", "Control"], "paddingInner": 0.3, "paddingOuter": 0.44}},
                           "y": {"field": "hi", "type": "quantitative", "scale": {"domain": [0, 8]}, "axis": {"title": "RelativemRNA expression", "values": [0, 2, 4, 6, 8], "format": "d", "labelOverlap": false}}
                         }},
                        {"data": {"name": "brD"}, "mark": {"type": "line", "color": "#000", "strokeWidth": 1.2},
                         "encoding": {
                           "x": {"field": "time", "type": "nominal", "sort": ["6", "12", "24"], "scale": {"paddingInner": 0, "paddingOuter": 0}, "axis": {"orient": "top", "title": "D", "labels": false, "ticks": false, "domain": false, "titleAnchor": "start", "titleAlign": "left", "titleX": -14, "titleY": -13, "titleBaseline": "alphabetic", "titleFontSize": 14}},
                           "xOffset": {"field": "at", "type": "nominal", "scale": {"type": "point", "domain": ["Silibinin", "m1", "Sil-GelMA", "m2", "GelMA", "m3", "Control"], "padding": 1.575}},
                           "y": {"field": "y", "type": "quantitative", "scale": {"domain": [0, 8]}, "axis": {"title": "RelativemRNA expression", "values": [0, 2, 4, 6, 8], "format": "d", "labelOverlap": false}},
                           "detail": {"field": "id"},
                           "order": {"field": "k"}
                         }},
                        {"data": {"name": "stD"}, "mark": {"type": "text", "fontSize": 12, "fontWeight": "bold", "baseline": "alphabetic", "color": "#000"},
                         "encoding": {
                           "x": {"field": "time", "type": "nominal", "sort": ["6", "12", "24"], "scale": {"paddingInner": 0, "paddingOuter": 0}, "axis": null},
                           "xOffset": {"field": "at", "type": "nominal", "scale": {"type": "point", "domain": ["Silibinin", "m1", "Sil-GelMA", "m2", "GelMA", "m3", "Control"], "padding": 1.575}},
                           "y": {"field": "y", "type": "quantitative", "scale": {"domain": [0, 8]}, "axis": {"title": "RelativemRNA expression", "values": [0, 2, 4, 6, 8], "format": "d", "labelOverlap": false}},
                           "text": {"field": "s"}
                         }}
                      ]
                    }
                  ]
                }
              ]
            }
          ]
        },
        {
          "title": {"text": "vascularization", "orient": "left", "anchor": "middle", "fontSize": 15, "offset": 17},
          "spacing": 9,
          "resolve": {"scale": {"fill": "independent"}, "legend": {"fill": "independent"}},
          "vconcat": [
            {"width": 615, "height": 1, "data": {"values": []}, "mark": {"type": "point"}, "encoding": {}, "view": {"stroke": "#000", "strokeWidth": 1.5}},
            {
              "spacing": 9,
              "resolve": {"scale": {"fill": "independent"}, "legend": {"fill": "independent"}},
              "hconcat": [
                {"width": 1, "height": 1, "data": {"values": []}, "mark": {"type": "point"}, "encoding": {}},
                {
                  "width": 184, "height": 118,
                  "title": {"text": "VEGF", "frame": "group", "anchor": "middle", "offset": -12},
                  "resolve": {"scale": {"xOffset": "independent"}, "axis": {"x": "independent"}},
                  "layer": [
                    {"data": {"name": "barsE"}, "mark": {"type": "bar", "stroke": "#000", "strokeWidth": 1.2},
                     "encoding": {
                       "x": {"field": "time", "type": "nominal", "sort": ["6", "12", "24"], "scale": {"paddingInner": 0, "paddingOuter": 0}, "axis": {"title": "Time（h）"}},
                       "xOffset": {"field": "group", "type": "nominal", "scale": {"domain": ["Silibinin", "Sil-GelMA", "GelMA", "Control"], "paddingInner": 0.3, "paddingOuter": 0.44}},
                       "y": {"field": "value", "type": "quantitative", "scale": {"domain": [0, 2]}, "axis": {"title": "Relative mRNA expression", "values": [0, 0.5, 1, 1.5, 2], "format": ".1f", "labelOverlap": false}},
                       "fill": {"field": "group", "type": "nominal", "scale": {"domain": ["Silibinin", "Sil-GelMA", "GelMA", "Control"], "range": ["#0d0d0d", "#8a8a8a", "#575757", "#cccccc"]}, "legend": {"title": null, "orient": "none", "legendX": 193, "legendY": -20}}
                     }},
                    {"data": {"name": "barsE"}, "mark": {"type": "rule", "color": "#000", "strokeWidth": 1},
                     "encoding": {
                       "x": {"field": "time", "type": "nominal", "sort": ["6", "12", "24"], "scale": {"paddingInner": 0, "paddingOuter": 0}, "axis": null},
                       "xOffset": {"field": "group", "type": "nominal", "scale": {"domain": ["Silibinin", "Sil-GelMA", "GelMA", "Control"], "paddingInner": 0.3, "paddingOuter": 0.44}},
                       "y": {"field": "value", "type": "quantitative", "scale": {"domain": [0, 2]}, "axis": {"title": "Relative mRNA expression", "values": [0, 0.5, 1, 1.5, 2], "format": ".1f", "labelOverlap": false}},
                       "y2": {"field": "hi"}
                     }},
                    {"data": {"name": "barsE"}, "mark": {"type": "tick", "color": "#000", "thickness": 1, "size": 5},
                     "encoding": {
                       "x": {"field": "time", "type": "nominal", "sort": ["6", "12", "24"], "scale": {"paddingInner": 0, "paddingOuter": 0}, "axis": null},
                       "xOffset": {"field": "group", "type": "nominal", "scale": {"domain": ["Silibinin", "Sil-GelMA", "GelMA", "Control"], "paddingInner": 0.3, "paddingOuter": 0.44}},
                       "y": {"field": "hi", "type": "quantitative", "scale": {"domain": [0, 2]}, "axis": {"title": "Relative mRNA expression", "values": [0, 0.5, 1, 1.5, 2], "format": ".1f", "labelOverlap": false}}
                     }},
                    {"data": {"name": "brE"}, "mark": {"type": "line", "color": "#000", "strokeWidth": 1.2},
                     "encoding": {
                       "x": {"field": "time", "type": "nominal", "sort": ["6", "12", "24"], "scale": {"paddingInner": 0, "paddingOuter": 0}, "axis": {"orient": "top", "title": "E", "labels": false, "ticks": false, "domain": false, "titleAnchor": "start", "titleAlign": "left", "titleX": -13, "titleY": -12, "titleBaseline": "alphabetic", "titleFontSize": 14}},
                       "xOffset": {"field": "at", "type": "nominal", "scale": {"type": "point", "domain": ["Silibinin", "m1", "Sil-GelMA", "m2", "GelMA", "m3", "Control"], "padding": 1.575}},
                       "y": {"field": "y", "type": "quantitative", "scale": {"domain": [0, 2]}, "axis": {"title": "Relative mRNA expression", "values": [0, 0.5, 1, 1.5, 2], "format": ".1f", "labelOverlap": false}},
                       "detail": {"field": "id"},
                       "order": {"field": "k"}
                     }},
                    {"data": {"name": "stE"}, "mark": {"type": "text", "fontSize": 12, "fontWeight": "bold", "baseline": "alphabetic", "color": "#000"},
                     "encoding": {
                       "x": {"field": "time", "type": "nominal", "sort": ["6", "12", "24"], "scale": {"paddingInner": 0, "paddingOuter": 0}, "axis": null},
                       "xOffset": {"field": "at", "type": "nominal", "scale": {"type": "point", "domain": ["Silibinin", "m1", "Sil-GelMA", "m2", "GelMA", "m3", "Control"], "padding": 1.575}},
                       "y": {"field": "y", "type": "quantitative", "scale": {"domain": [0, 2]}, "axis": {"title": "Relative mRNA expression", "values": [0, 0.5, 1, 1.5, 2], "format": ".1f", "labelOverlap": false}},
                       "text": {"field": "s"}
                     }}
                  ]
                }
              ]
            }
          ]
        }
      ]
    }
  ]
}
